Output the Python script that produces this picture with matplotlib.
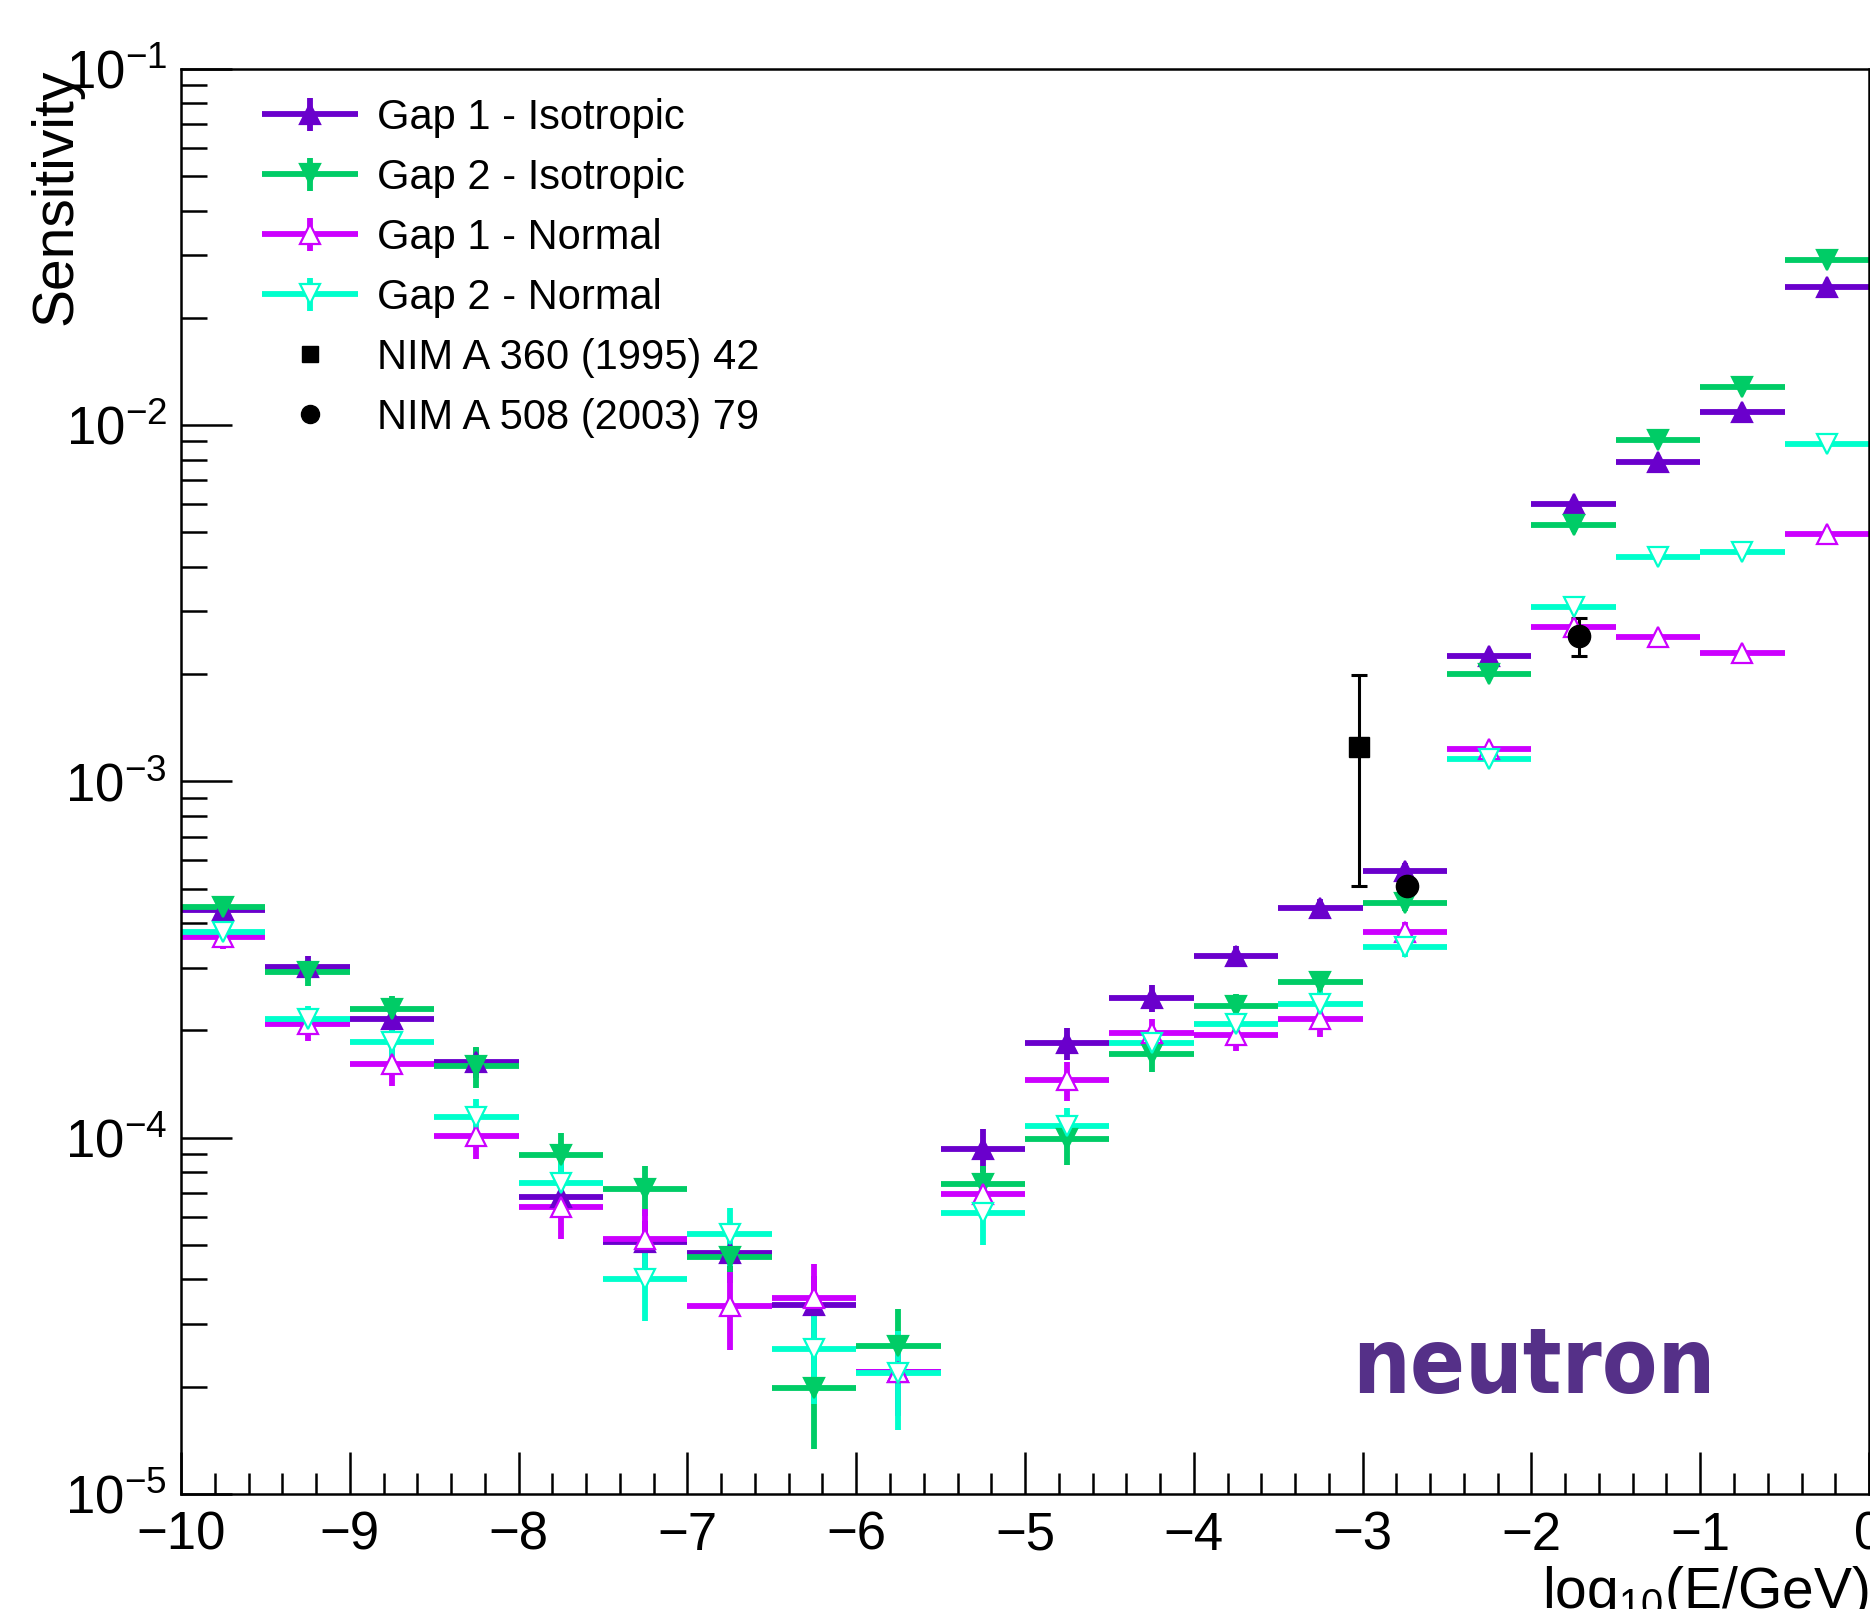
import matplotlib
matplotlib.use('Agg')
import matplotlib.pyplot as plt
from matplotlib import font_manager
from matplotlib.ticker import MultipleLocator, LogLocator, NullFormatter
from matplotlib.lines import Line2D
from matplotlib.container import ErrorbarContainer
from matplotlib.legend_handler import HandlerErrorbar

plt.rcParams['font.family'] = ['Liberation Sans', 'DejaVu Sans']
plt.rcParams['mathtext.fontset'] = 'custom'
plt.rcParams['mathtext.rm'] = 'Liberation Sans'
plt.rcParams['mathtext.it'] = 'Liberation Sans:italic'
plt.rcParams['mathtext.bf'] = 'Liberation Sans:bold'

# bin centres in log10(E/GeV), bins are 0.5 wide
log_e = [-9.75, -9.25, -8.75, -8.25, -7.75, -7.25, -6.75, -6.25, -5.75, -5.25,
         -4.75, -4.25, -3.75, -3.25, -2.75, -2.25, -1.75, -1.25, -0.75, -0.25]
half_bin = 0.25

gap1_iso = [4.35e-4, 3.02e-4, 2.15e-4, 1.63e-4, 6.8e-5, 5.1e-5, 4.74e-5, 3.4e-5, 2.2e-5, 9.3e-5,
            1.84e-4, 2.47e-4, 3.24e-4, 4.42e-4, 5.62e-4, 2.25e-3, 6.0e-3, 7.9e-3, 1.09e-2, 2.44e-2]
gap1_iso_err = [2.6e-5, 2.1e-5, 1.7e-5, 1.6e-5, 8e-6, 7.5e-6, 7e-6, 7e-6, 4.5e-6, 1.3e-5,
                1.9e-5, 2.2e-5, 2.2e-5, 2.6e-5, 2.8e-5, 9e-5, 2.4e-4, 2.4e-4, 3.3e-4, 7.3e-4]

gap2_iso = [4.45e-4, 2.92e-4, 2.30e-4, 1.59e-4, 8.96e-5, 7.18e-5, 4.61e-5, 1.98e-5, 2.61e-5, 7.43e-5,
            9.94e-5, 1.72e-4, 2.34e-4, 2.73e-4, 4.57e-4, 2.0e-3, 5.23e-3, 9.06e-3, 1.276e-2, 2.90e-2]
gap2_iso_err = [2.7e-5, 2.6e-5, 2.0e-5, 2.1e-5, 1.35e-5, 1.17e-5, 7e-6, 6.4e-6, 6.9e-6, 9e-6,
                1.55e-5, 1.9e-5, 1.9e-5, 1.9e-5, 2.3e-5, 8e-5, 2.1e-4, 2.7e-4, 3.8e-4, 8.7e-4]

gap1_norm = [3.65e-4, 2.08e-4, 1.61e-4, 1.01e-4, 6.37e-5, 5.2e-5, 3.37e-5, 3.55e-5, 2.2e-5, 6.94e-5,
             1.45e-4, 1.97e-4, 1.94e-4, 2.15e-4, 3.79e-4, 1.237e-3, 2.72e-3, 2.54e-3, 2.29e-3, 4.96e-3]
gap1_norm_err = [2.7e-5, 2.1e-5, 2.1e-5, 1.4e-5, 1.18e-5, 1.1e-5, 8.3e-6, 8.7e-6, 5.5e-6, 1.0e-5,
                 1.8e-5, 1.8e-5, 1.9e-5, 2.3e-5, 2.3e-5, 5e-5, 1.1e-4, 7.6e-5, 6.9e-5, 1.5e-4]

gap2_norm = [3.79e-4, 2.15e-4, 1.85e-4, 1.14e-4, 7.45e-5, 4.0e-5, 5.36e-5, 2.56e-5, 2.19e-5, 6.16e-5,
             1.08e-4, 1.84e-4, 2.08e-4, 2.38e-4, 3.42e-4, 1.154e-3, 3.08e-3, 4.26e-3, 4.41e-3, 8.88e-3]
gap2_norm_err = [2.7e-5, 1.9e-5, 2.0e-5, 1.4e-5, 1.1e-5, 9.5e-6, 1.0e-5, 7.7e-6, 6.8e-6, 1.17e-5,
                 1.3e-5, 1.8e-5, 1.9e-5, 2.1e-5, 2.1e-5, 4.6e-5, 1.2e-4, 1.3e-4, 1.3e-4, 2.7e-4]

# published measurements
nim360_x = [-3.02]
nim360_y = [1.25e-3]
nim360_err = [7.4e-4]
nim508_x = [-2.74, -1.72]
nim508_y = [5.1e-4, 2.56e-3]
nim508_err = [2e-5, 3.1e-4]

purple = '#6a00cc'
green = '#00cc66'
magenta = '#cc00ff'
cyan = '#00ffcc'

fig = plt.figure(figsize=(18.7, 16.09), dpi=100)
ax = fig.add_axes([0.0968, 0.0715, 0.9027, 0.8857])

series = [
    (gap1_iso, gap1_iso_err, '^', purple, True, 'Gap 1 - Isotropic'),
    (gap2_iso, gap2_iso_err, 'v', green, True, 'Gap 2 - Isotropic'),
    (gap1_norm, gap1_norm_err, '^', magenta, False, 'Gap 1 - Normal'),
    (gap2_norm, gap2_norm_err, 'v', cyan, False, 'Gap 2 - Normal'),
]
handles = []
for vals, errs, mk, col, filled, lab in series:
    h = ax.errorbar(log_e, vals, xerr=half_bin, yerr=errs, fmt=mk, ls='none',
                    color=col, ecolor=col, mfc=col if filled else 'white', mec=col,
                    mew=1.6, ms=15, elinewidth=4.2, capsize=0, label=lab)
    handles.append(h)

ax.errorbar(nim360_x, nim360_y, yerr=nim360_err, fmt='s', color='black', ms=15,
            elinewidth=2.2, capsize=6, capthick=2.2)
ax.errorbar(nim508_x, nim508_y, yerr=nim508_err, fmt='o', color='black', ms=16,
            elinewidth=2.2, capsize=6, capthick=2.2)

handles.append(Line2D([], [], marker='s', ls='none', color='black', ms=12))
handles.append(Line2D([], [], marker='o', ls='none', color='black', ms=13))
labels = [s[5] for s in series] + ['NIM A 360 (1995) 42', 'NIM A 508 (2003) 79']

ax.set_yscale('log')
ax.set_xlim(-10, 0)
ax.set_ylim(1e-5, 1e-1)

ax.xaxis.set_major_locator(MultipleLocator(1))
ax.xaxis.set_minor_locator(MultipleLocator(0.2))
ax.yaxis.set_major_locator(LogLocator(base=10, numticks=10))
ax.yaxis.set_minor_locator(LogLocator(base=10, subs=range(2, 10), numticks=20))
ax.yaxis.set_minor_formatter(NullFormatter())

ax.tick_params(axis='both', which='both', direction='in', top=False, right=False, width=1.8)
ax.tick_params(axis='x', which='major', length=30, labelsize=38, pad=12)
ax.tick_params(axis='x', which='minor', length=15)
ax.tick_params(axis='y', which='major', length=37, labelsize=38, pad=10)
ax.tick_params(axis='y', which='minor', length=19)
for sp in ax.spines.values():
    sp.set_linewidth(1.8)

ax.set_xlabel('log$_{10}$(E/GeV)', fontsize=41, loc='right')
ax.xaxis.set_label_coords(1.0, -0.049)
ax.set_ylabel('Sensitivity', fontsize=41, loc='top')
ax.yaxis.set_label_coords(-0.058, 1.0)

ax.legend(handles, labels, loc='upper left', bbox_to_anchor=(262 / 1870, 1 - 98 / 1609),
          bbox_transform=fig.transFigure, frameon=False, fontsize=30, numpoints=1,
          handlelength=2.3, handletextpad=0.45, labelspacing=0.48, borderpad=0,
          borderaxespad=0,
          handler_map={ErrorbarContainer: HandlerErrorbar(xerr_size=1.15, yerr_size=0.4)})

# pick a condensed bold face for the particle tag if one is installed
font_names = {(f.name, f.stretch) for f in font_manager.fontManager.ttflist}
if any(n == 'Liberation Sans Narrow' for n, s in font_names):
    tag_font = dict(family='Liberation Sans Narrow', fontsize=84)
elif ('DejaVu Sans', 'condensed') in font_names:
    tag_font = dict(family='DejaVu Sans', stretch='condensed', fontsize=65)
else:
    tag_font = dict(family='Liberation Sans', fontsize=68)

fig.text(1352 / 1870, 1 - 1393 / 1609, 'neutron', fontweight='bold',
         color='#553088', va='baseline', **tag_font)

fig.savefig('out.png', dpi=100)
